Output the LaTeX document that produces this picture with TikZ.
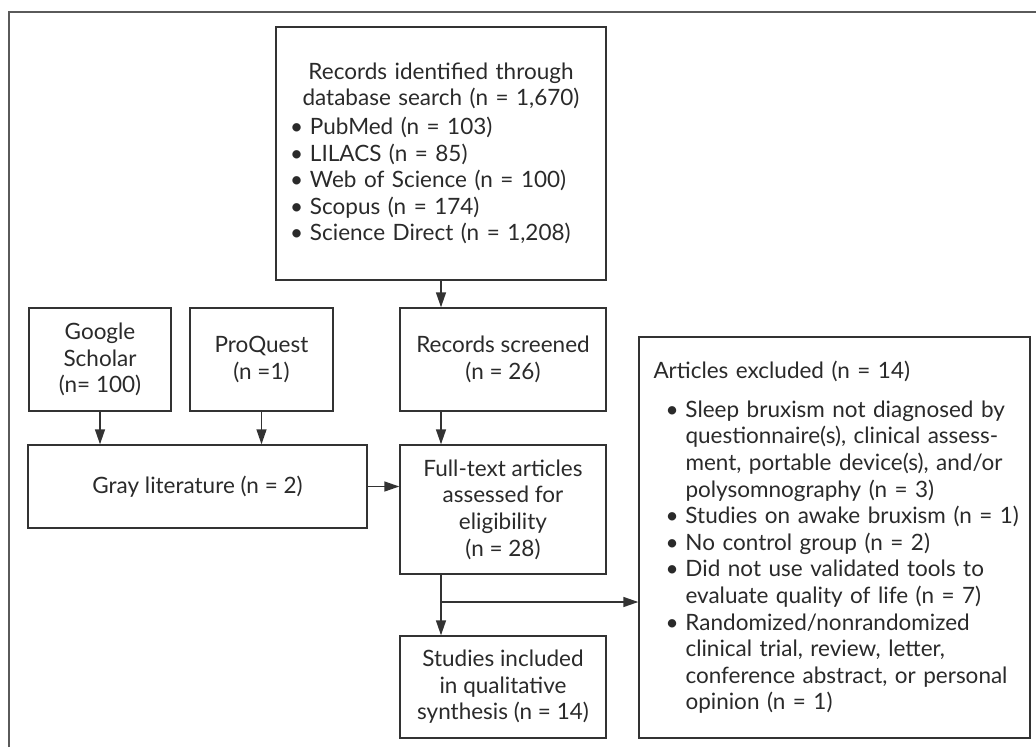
\documentclass[tikz,border=0pt]{standalone}
\usepackage{fontspec}
\setmainfont{Lato}
\usetikzlibrary{arrows.meta}

\definecolor{linea}{HTML}{333333}
\definecolor{tinta}{HTML}{2A2A2A}
\definecolor{borde}{HTML}{5A5A5A}

% vineta con sangria francesa
\newcommand{\vineta}[2][0pt]{\par\hangindent=\dimexpr#1+20pt\relax\hangafter=1\noindent\hspace*{#1}\makebox[20pt][l]{\textbullet}#2}

\begin{document}
\begin{tikzpicture}[x=1pt, y=-1pt,
		caja/.style={draw=linea, line width=1.4pt, text=tinta, inner sep=0pt, align=center,
			font=\fontsize{22.5}{26.6}\selectfont},
		flecha/.style={draw=linea, line width=1.4pt, -{Triangle[length=15pt,width=10pt]}},
		marco/.style={draw=borde, line width=2pt}
	]
	\useasboundingbox (0,0) rectangle (1036,747);

	%Marco exterior
	\draw[marco] (9,747) -- (9,12) -- (1036,12);

	%Creamos las cajas
	\node[caja, minimum width=330, minimum height=253, text width=302, align=left] (registros) at (441,153.5) {%
		{\centering Records identified through\\database search (n = 1,670)\par}\vspace{2pt}
		\raggedright
		\vineta{PubMed (n = 103)}
		\vineta{LILACS (n = 85)}
		\vineta{Web of Science (n = 100)}
		\vineta{Scopus (n = 174)}
		\vineta{Science Direct (n = 1,208)}\par};
	\node[caja, minimum width=142, minimum height=103] (google) at (100,359.5) {Google\\Scholar\\(n= 100)};
	\node[caja, minimum width=143, minimum height=103] (proquest) at (261.5,359.5) {ProQuest\\(n =1)};
	\node[caja, minimum width=206, minimum height=103] (cribados) at (503,359.5) {Records screened\\(n = 26)};
	\node[caja, minimum width=339, minimum height=83] (gris) at (197.5,486.5) {Gray literature (n = 2)};
	\node[caja, minimum width=206, minimum height=129] (completos) at (503,509.5) {Full-text articles\\assessed for\\eligibility\\(n = 28)};
	\node[caja, minimum width=206, minimum height=102] (incluidos) at (503,687) {Studies included\\in qualitative\\synthesis (n = 14)};
	\node[caja, minimum width=391, minimum height=401, text width=362, align=left] (excluidos) at (834.5,537.5) {%
		Articles excluded (n = 14)\par\vspace{12pt}
		\vineta[12pt]{Sleep bruxism not diagnosed by\newline questionnaire(s), clinical assess-\newline ment, portable device(s), and/or\newline polysomnography (n = 3)}
		\vineta[12pt]{\mbox{Studies on awake bruxism (n = 1)}}
		\vineta[12pt]{No control group (n = 2)}
		\vineta[12pt]{Did not use validated tools to\newline evaluate quality of life (n = 7)}
		\vineta[12pt]{Randomized/nonrandomized\newline clinical trial, review, letter,\newline conference abstract, or personal\newline opinion (n = 1)}\par};

	%Puntos de apoyo para las flechas
	\coordinate (eje) at (441,0);
	\coordinate (rama) at (441,602);

	%Flechas
	\draw[flecha] (registros.south) -- (cribados.north -| registros.south);
	\draw[flecha] (google.south) -- (gris.north -| google.south);
	\draw[flecha] (proquest.south) -- (gris.north -| proquest.south);
	\draw[flecha] (cribados.south -| eje) -- (completos.north -| eje);
	\draw[flecha] (gris.east) -- (gris.east -| completos.west);
	\draw[flecha] (completos.south -| eje) -- (incluidos.north -| eje);
	\draw[flecha] (rama) -- (rama -| excluidos.west);

\end{tikzpicture}
\end{document}
